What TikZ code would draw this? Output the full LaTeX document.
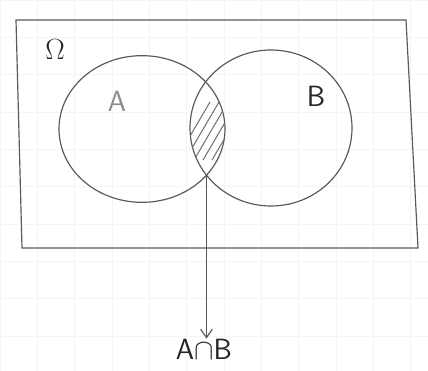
\documentclass[tikz,border=0pt]{standalone}
\usepackage{amsmath}
\usepackage{amssymb}
\usepackage{tikz}
\usetikzlibrary{arrows.meta,positioning,calc,intersections,shapes.geometric}

\begin{document}
\begin{tikzpicture}[
    x=0.03cm, y=-0.03cm,
    font=\sffamily,
    pen/.style={draw=black!65, line width=1pt},
    setlabel/.style={font=\fontsize{25}{27}\selectfont\sffamily, inner sep=0pt},
    hatch/.style={draw=black!55, line width=0.9pt}
]
\useasboundingbox (0,0) rectangle (428,371);
% faint squared paper
\draw[black!4, line width=0.4pt] (0,0) grid[step=1.12cm] (428,371);

% universe
\coordinate (nw) at (16,20);
\coordinate (ne) at (406,20);
\coordinate (se) at (418,248);
\coordinate (sw) at (22,248);
\draw[pen] (nw) -- (ne) -- (se) -- (sw) -- cycle;
\node[font=\fontsize{30}{32}\selectfont, text=black!85, inner sep=0pt] (omega) at (55,50) {$\Omega$};

% the two sets
\path[pen, name path=pa] (142,129) ellipse [x radius=2.49cm, y radius=2.2cm];
\path[pen, name path=pb] (271,128) ellipse [x radius=2.43cm, y radius=2.34cm];
\path[name intersections={of=pa and pb, by={i1,i2}}];

\begin{scope}
    \clip (142,129) ellipse [x radius=2.49cm, y radius=2.2cm];
    \clip (271,128) ellipse [x radius=2.43cm, y radius=2.34cm];
    \foreach \d in {0,9,...,36}
        \draw[hatch] (176+\d,160) -- +(34,-58);
\end{scope}

\node[setlabel, text=black!45] (lA) at (117,101) {A};
\node[setlabel, text=black!85] (lB) at (316,96) {B};

% intersection
\node[setlabel, text=black!85] (lAB) at (204,349) {A$\cap$B};
\draw[pen, -{Straight Barb[length=2.5mm, width=3.5mm]}] (i2) -- (i2 |- lAB.north);
\end{tikzpicture}
\end{document}
